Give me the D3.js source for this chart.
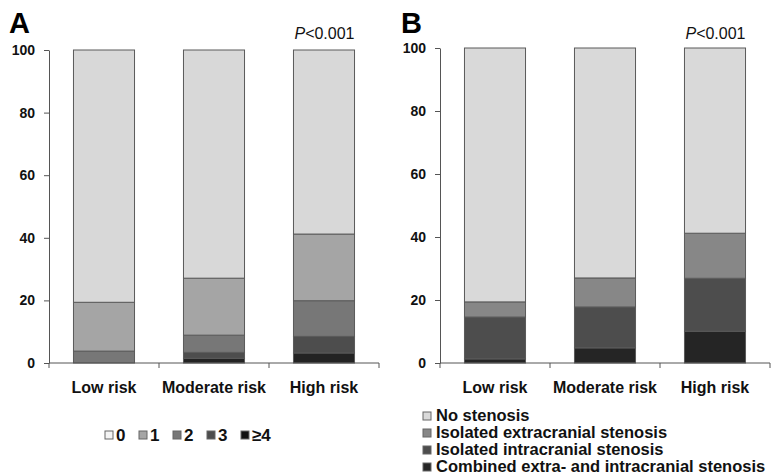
<!DOCTYPE html>
<html>
<head>
<meta charset="utf-8">
<script src="https://cdn.jsdelivr.net/npm/d3@7"></script>
<style>
  body { margin: 0; background: #fff; }
  svg { display: block; font-family: "Liberation Sans", Arial, sans-serif; }
  .tick text { font-weight: bold; fill: #111; }
</style>
</head>
<body>
<svg width="773" height="474"></svg>
<script>
const categories = ["Low risk", "Moderate risk", "High risk"];
const yTicks = [0, 20, 40, 60, 80, 100];

// Panel A: number of stenoses (%)
const keysA = ["≥4", "3", "2", "1", "0"];
const valuesA = {
  "≥4": [0, 1.5, 3.2],
  "3":  [0, 1.9, 5.3],
  "2":  [3.8, 5.5, 11.4],
  "1":  [15.6, 18.2, 21.3],
  "0":  [80.6, 72.9, 58.8]
};
const legendA = ["0", "1", "2", "3", "≥4"];

// Panel B: stenosis location (%)
const keysB = ["Combined extra- and intracranial stenosis", "Isolated intracranial stenosis",
  "Isolated extracranial stenosis", "No stenosis"];
const valuesB = {
  "Combined extra- and intracranial stenosis": [1.3, 4.8, 10.1],
  "Isolated intracranial stenosis": [13.3, 13.0, 16.8],
  "Isolated extracranial stenosis": [4.8, 9.2, 14.3],
  "No stenosis": [80.6, 73.0, 58.8]
};
const legendB = ["No stenosis", "Isolated extracranial stenosis", "Isolated intracranial stenosis",
  "Combined extra- and intracranial stenosis"];

const colorA = d3.scaleOrdinal().domain(["0", "1", "2", "3", "≥4"])
  .range(["#d8d8d8", "#a5a5a5", "#777777", "#4d4d4d", "#232323"]);
const swatchA = d3.scaleOrdinal().domain(["0", "1", "2", "3", "≥4"])
  .range(["#f4f4f4", "#a5a5a5", "#777777", "#4d4d4d", "#111111"]);
const colorB = d3.scaleOrdinal().domain(legendB)
  .range(["#d9d9d9", "#878787", "#4d4d4d", "#252525"]);

const svg = d3.select("svg");

function drawPanel(opts) {
  const { keys, values, color, x0, x1, yTop, label, lx } = opts;
  const g = svg.append("g");

  const rows = categories.map((c, i) => {
    const r = { cat: c };
    keys.forEach(k => r[k] = values[k][i]);
    return r;
  });
  const series = d3.stack().keys(keys)(rows);

  const x = d3.scaleBand().domain(categories).range([x0, x1]).padding(0);
  const y = d3.scaleLinear().domain([0, 100]).range([363, yTop]);
  const bw = x.bandwidth() * 0.555;

  // bars
  g.selectAll("g.series")
    .data(series)
    .join("g")
    .attr("fill", d => color(d.key))
    .selectAll("rect")
    .data(d => d)
    .join("rect")
    .attr("x", d => x(d.data.cat) + (x.bandwidth() - bw) / 2)
    .attr("y", d => y(d[1]))
    .attr("width", bw)
    .attr("height", d => y(d[0]) - y(d[1]))
    .attr("stroke", "#5a5a5a")
    .attr("stroke-width", 1);

  // Y axis
  const ya = g.append("g")
    .attr("transform", `translate(${x0},0)`)
    .call(d3.axisLeft(y).tickValues(yTicks).tickSize(5).tickSizeOuter(0).tickPadding(9));
  ya.selectAll("text").style("font-size", "14px");
  ya.selectAll("line, path").attr("stroke", "#555");

  // X axis (ticks at band boundaries)
  const xa = g.append("g").attr("transform", "translate(0,363)");
  xa.append("line")
    .attr("x1", x0).attr("x2", x1)
    .attr("stroke", "#555");
  xa.selectAll("line.tk")
    .data(d3.range(categories.length + 1))
    .join("line")
    .attr("class", "tk")
    .attr("x1", i => x0 + i * x.step()).attr("x2", i => x0 + i * x.step())
    .attr("y1", 0).attr("y2", 5)
    .attr("stroke", "#555");
  xa.selectAll("text")
    .data(categories)
    .join("text")
    .attr("x", d => x(d) + x.bandwidth() / 2)
    .attr("y", 30)
    .attr("text-anchor", "middle")
    .attr("font-size", "16px")
    .attr("font-weight", "bold")
    .attr("fill", "#111")
    .text(d => d);

  // panel letter
  g.append("text")
    .attr("x", lx).attr("y", 33)
    .attr("font-size", "29px").attr("font-weight", "bold")
    .text(label);

  // P value
  const pt = g.append("text")
    .attr("x", x(categories[2]) + (x.bandwidth() + bw) / 2)
    .attr("y", 39)
    .attr("text-anchor", "end")
    .attr("font-size", "16px")
    .attr("fill", "#111");
  pt.append("tspan").attr("font-style", "italic").text("P");
  pt.append("tspan").text("<0.001");
}

drawPanel({ keys: keysA, values: valuesA, color: colorA, x0: 49, x1: 379, yTop: 50, label: "A", lx: 9 });
drawPanel({ keys: keysB, values: valuesB, color: colorB, x0: 440, x1: 770, yTop: 48, label: "B", lx: 401 });

// Legend A (horizontal)
const legA = svg.append("g").attr("transform", "translate(105,441)");
const xLegA = d3.scalePoint().domain(legendA).range([0, 136]);
const itA = legA.selectAll("g")
  .data(legendA)
  .join("g")
  .attr("transform", d => `translate(${xLegA(d)},0)`);
itA.append("rect")
  .attr("x", 0).attr("y", -10).attr("width", 8).attr("height", 8)
  .attr("fill", d => swatchA(d)).attr("stroke", "#666");
itA.append("text")
  .attr("x", 11).attr("y", 0)
  .attr("font-size", "17px").attr("font-weight", "bold").attr("fill", "#111")
  .text(d => d);

// Legend B (vertical)
const legB = svg.append("g").attr("transform", "translate(423,421)");
const itB = legB.selectAll("g")
  .data(legendB)
  .join("g")
  .attr("transform", (d, i) => `translate(0,${i * 17})`);
itB.append("rect")
  .attr("x", 0).attr("y", -9).attr("width", 8).attr("height", 8)
  .attr("fill", d => colorB(d)).attr("stroke", "#666");
itB.append("text")
  .attr("x", 13).attr("y", 0)
  .attr("font-size", "16.5px").attr("font-weight", "bold").attr("fill", "#111")
  .text(d => d);
</script>
</body>
</html>
